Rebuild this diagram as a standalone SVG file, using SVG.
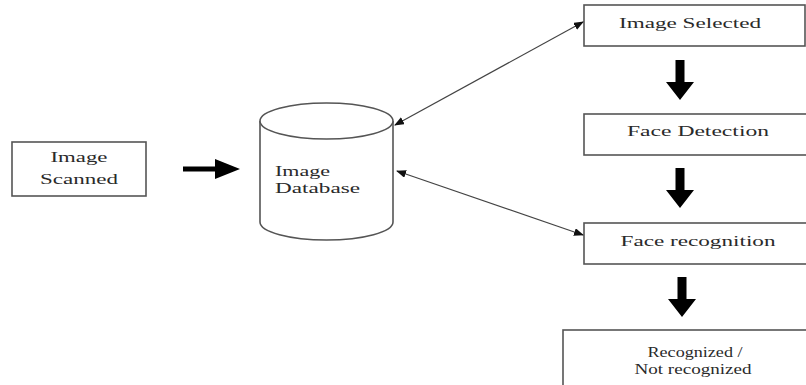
<svg xmlns="http://www.w3.org/2000/svg" width="806" height="385" viewBox="0 0 806 385">
<defs>
<style>
.box{fill:#fff;stroke:#555;stroke-width:1.6}
.t{font-family:"Liberation Serif","Times New Roman",serif;font-size:15px;fill:#2a2a2a}
.c{text-anchor:middle}
.thin{stroke:#444;stroke-width:1.2;fill:none}
.big{fill:#000}
</style>
<marker id="ah" markerWidth="10" markerHeight="8" refX="9" refY="4" orient="auto-start-reverse" markerUnits="userSpaceOnUse">
<path d="M0,0 L10,4 L0,8 Z" fill="#111"/>
</marker>
</defs>
<rect width="806" height="385" fill="#fff"/>
<g id="image-scanned">
<rect class="box" x="12" y="142" width="134" height="54"/>
<text class="t c" x="79" y="162" textLength="57" lengthAdjust="spacingAndGlyphs">Image</text>
<text class="t c" x="79" y="184" textLength="78" lengthAdjust="spacingAndGlyphs">Scanned</text>
</g>
<g id="image-database">
<path class="box" d="M260,121 L260,222 A66.5,18 0 0 0 393,222 L393,121"/>
<ellipse class="box" cx="326.5" cy="121" rx="66.5" ry="18"/>
<text class="t" x="275" y="176" textLength="55" lengthAdjust="spacingAndGlyphs">Image</text>
<text class="t" x="275" y="193" textLength="85" lengthAdjust="spacingAndGlyphs">Database</text>
</g>
<g id="image-selected">
<rect class="box" x="584" y="5" width="221" height="41"/>
<text class="t c" x="690" y="28" textLength="142" lengthAdjust="spacingAndGlyphs">Image Selected</text>
</g>
<g id="face-detection">
<rect class="box" x="584" y="114" width="230" height="41"/>
<text class="t c" x="698" y="136" textLength="142" lengthAdjust="spacingAndGlyphs">Face Detection</text>
</g>
<g id="face-recognition">
<rect class="box" x="584" y="223" width="230" height="41"/>
<text class="t c" x="698" y="246" textLength="155" lengthAdjust="spacingAndGlyphs">Face recognition</text>
</g>
<g id="recognized">
<rect class="box" x="563" y="330" width="260" height="70"/>
<text class="t c" x="695" y="357" textLength="95" lengthAdjust="spacingAndGlyphs">Recognized /</text>
<text class="t c" x="693" y="374" textLength="117" lengthAdjust="spacingAndGlyphs">Not recognized</text>
</g>
<g id="connectors">
<path class="big" d="M183,166.5 L215,166.5 L215,159 L240,169 L215,179 L215,171.5 L183,171.5 Z"/>
<path class="big" d="M675.5,60 L684.5,60 L684.5,82 L694,82 L680,100 L666,82 L675.5,82 Z"/>
<path class="big" d="M675.5,168 L684.5,168 L684.5,190 L694,190 L680,208 L666,190 L675.5,190 Z"/>
<path class="big" d="M677.5,277 L686.5,277 L686.5,299 L696,299 L682,317 L668,299 L677.5,299 Z"/>
<line class="thin" x1="395" y1="125" x2="583" y2="22" marker-start="url(#ah)" marker-end="url(#ah)"/>
<line class="thin" x1="397" y1="171" x2="583" y2="235" marker-start="url(#ah)" marker-end="url(#ah)"/>
</g>
</svg>
